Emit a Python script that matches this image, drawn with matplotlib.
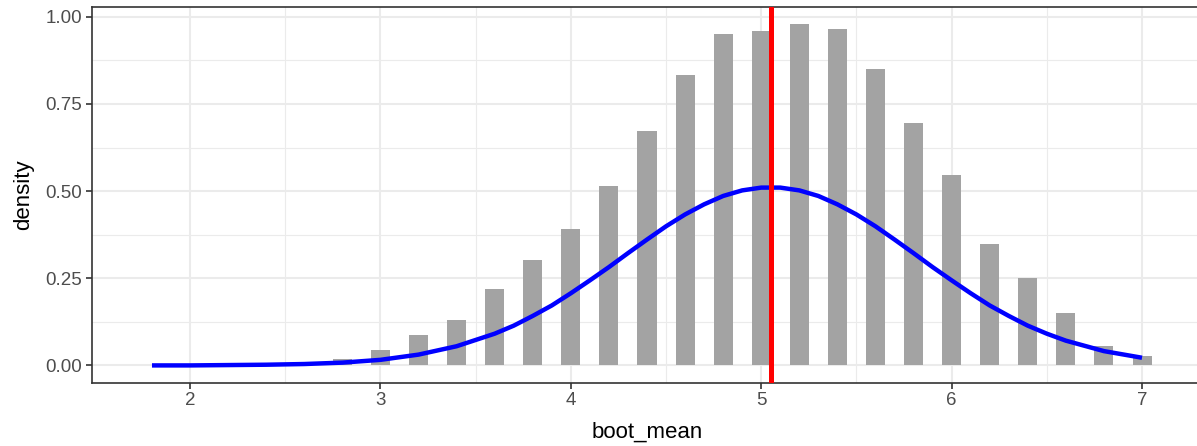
import matplotlib
matplotlib.use("Agg")
import matplotlib.pyplot as plt
import numpy as np

# histogram of bootstrap means (bin centres and densities)
bin_centers = [1.8, 2.6, 2.8, 3.0, 3.2, 3.4, 3.6, 3.8, 4.0, 4.2, 4.4, 4.6, 4.8,
               5.0, 5.2, 5.4, 5.6, 5.8, 6.0, 6.2, 6.4, 6.6, 6.8, 7.0]
bin_density = [0.002, 0.008, 0.018, 0.044, 0.087, 0.130, 0.218, 0.303, 0.390,
               0.515, 0.672, 0.833, 0.951, 0.958, 0.979, 0.965, 0.849, 0.695,
               0.547, 0.347, 0.252, 0.149, 0.057, 0.026]

# blue density curve
curve_x = [1.8, 2.0, 2.2, 2.4, 2.6, 2.8, 3.0, 3.2, 3.4, 3.6, 3.7, 3.8, 3.9,
           4.0, 4.1, 4.2, 4.3, 4.4, 4.5, 4.6, 4.7, 4.8, 4.9, 5.0, 5.1, 5.2,
           5.3, 5.4, 5.5, 5.6, 5.7, 5.8, 5.9, 6.0, 6.1, 6.2, 6.3, 6.4, 6.5,
           6.6, 6.8, 7.0]
curve_y = [0.000, 0.000, 0.001, 0.002, 0.004, 0.008, 0.016, 0.031, 0.055, 0.091,
           0.114, 0.142, 0.172, 0.207, 0.244, 0.282, 0.322, 0.361, 0.399, 0.433,
           0.462, 0.486, 0.502, 0.510, 0.510, 0.502, 0.486, 0.462, 0.433, 0.399,
           0.361, 0.322, 0.282, 0.244, 0.207, 0.172, 0.142, 0.114, 0.091, 0.071,
           0.041, 0.022]

mean_line = 5.05

plt.rcParams['font.family'] = ['Liberation Sans', 'DejaVu Sans']

fig = plt.figure(figsize=(11.97, 4.46), dpi=100)
ax = fig.add_axes([92 / 1197, 1 - 382.5 / 446, (1202 - 92) / 1197, (382.5 - 7) / 446])

ax.bar(bin_centers, bin_density, width=0.1, color='#a3a3a3', zorder=2)
ax.plot(curve_x, curve_y, color='#0000ff', lw=3.2, solid_capstyle='butt',
        solid_joinstyle='round', zorder=3)
ax.axvline(mean_line, color='#ff0000', lw=3.6, zorder=4)

ax.set_xlim(1.485, 7.315)
ax.set_ylim(-0.049, 1.028)
ax.set_xticks([2, 3, 4, 5, 6, 7])
ax.set_yticks([0, 0.25, 0.5, 0.75, 1.0])
ax.set_yticklabels(['0.00', '0.25', '0.50', '0.75', '1.00'])
ax.set_xticks(np.arange(2.5, 7.5, 1.0), minor=True)
ax.set_yticks([0.125, 0.375, 0.625, 0.875], minor=True)

ax.grid(which='major', color='#ebebeb', lw=1.5, zorder=0)
ax.grid(which='minor', color='#ebebeb', lw=0.8, zorder=0)
ax.set_axisbelow(True)

for sp in ax.spines.values():
    sp.set_color('#333333')
    sp.set_linewidth(1.2)

ax.tick_params(which='major', length=4, width=1.2, color='#333333',
               labelcolor='#4d4d4d', labelsize=13.5, pad=3)
ax.tick_params(which='minor', length=0)

ax.set_xlabel('boot_mean', fontsize=16, color='black', labelpad=9)
ax.set_ylabel('density', fontsize=16, color='black', labelpad=8)

fig.savefig('out.png', dpi=100)
